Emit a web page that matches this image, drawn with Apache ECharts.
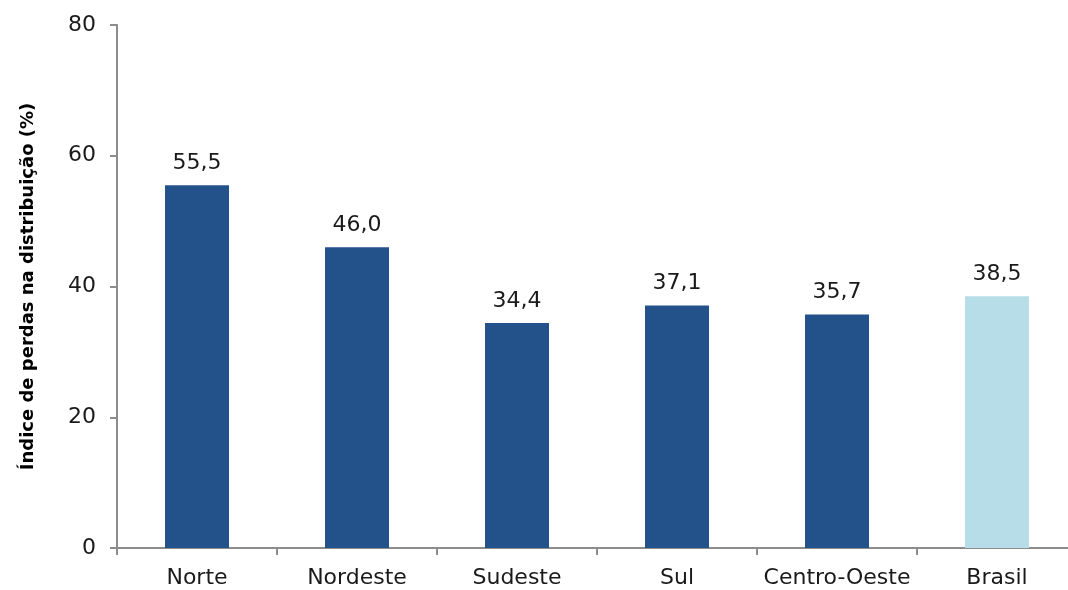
<!DOCTYPE html>
<html><head><meta charset="utf-8">
<script src="https://cdn.jsdelivr.net/npm/echarts@6/dist/echarts.min.js"></script>
<style>html,body{margin:0;padding:0;background:#fff}#c{width:1068px;height:590px}</style>
</head><body><div id="c"></div>
<script>
const categories = ['Norte', 'Nordeste', 'Sudeste', 'Sul', 'Centro-Oeste', 'Brasil'];
const values = [55.5, 46.0, 34.4, 37.1, 35.7, 38.5];
const barColors = ['#23518A', '#23518A', '#23518A', '#23518A', '#23518A', '#B7DDE8'];
const yTicks = [0, 20, 40, 60, 80];
const yName = 'Índice de perdas na distribuição (%)';
const font = '"DejaVu Sans", sans-serif';

const chart = echarts.init(document.getElementById('c'), null, {renderer: 'canvas'});
chart.setOption({
  animation: false,
  grid: {left: 117, top: 25, bottom: 42, width: 960, containLabel: false, outerBoundsMode: 'none'},
  xAxis: {
    type: 'category', data: categories,
    axisLine: {lineStyle: {color: '#8c8c8c', width: 2}},
    axisTick: {show: true, interval: 0, length: 7, lineStyle: {color: '#8c8c8c', width: 2}},
    axisLabel: {interval: 0, color: '#1a1a1a', fontSize: 22, fontFamily: font, margin: 19}
  },
  yAxis: {
    type: 'value', min: yTicks[0], max: yTicks[yTicks.length - 1], interval: 20,
    name: yName, nameLocation: 'middle', nameGap: 80, nameRotate: 90,
    nameTextStyle: {color: '#000', fontSize: 18, fontWeight: 'bold', fontFamily: font},
    axisLine: {show: true, lineStyle: {color: '#8c8c8c', width: 2}},
    axisTick: {show: true, length: 7, lineStyle: {color: '#8c8c8c', width: 2}},
    splitLine: {show: false},
    axisLabel: {color: '#1a1a1a', fontSize: 22, fontFamily: font, margin: 21}
  },
  series: [{
    type: 'bar', barWidth: '40%',
    data: values.map((v, i) => ({value: v, itemStyle: {color: barColors[i]}})),
    label: {show: true, position: 'top', distance: 11, color: '#1a1a1a', fontSize: 22, fontFamily: font,
      formatter: p => p.value.toFixed(1).replace('.', ',')}
  }]
});
</script></body></html>
